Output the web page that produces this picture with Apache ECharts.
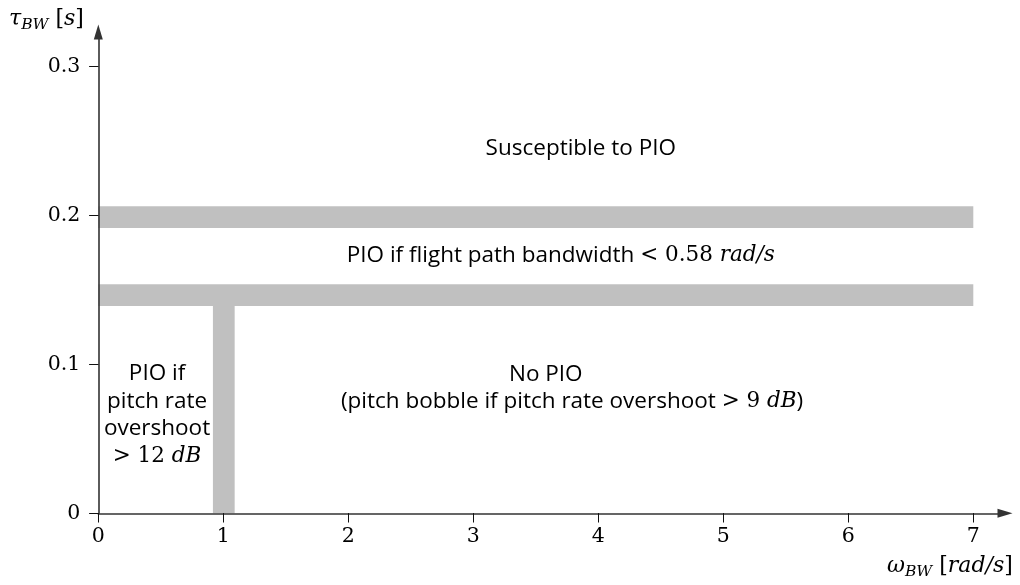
<!DOCTYPE html>
<html>
<head>
<meta charset="utf-8">
<script src="https://cdn.jsdelivr.net/npm/echarts@6/dist/echarts.min.js"></script>
<style>
  html, body { margin: 0; padding: 0; background: #fff; }
  #chart { width: 1020px; height: 585px; }
</style>
</head>
<body>
<div id="chart"></div>
<script>
// Axis extents: bandwidth (rad/s) and phase delay (s)
const xRange = [0, 7];
const xStep = 1;
const yRange = [0, 0.3];
const yStep = 0.1;

// Grey boundary bands between regions: [x0, x1, y0, y1]
const boundaryBands = [
  [0, 7, 0.1917, 0.2063],
  [0, 7, 0.1393, 0.1539],
  [0.917, 1.091, 0, 0.1393]
];

// Region descriptions: anchor (x, y) and rich text
const noteX = [3.86, 3.70, 3.58, 3.79, 0.47];
const noteY = [0.245, 0.173, 0.093, 0.075, 0.066];
const noteText = [
  '{t|Susceptible to PIO}',
  '{t|PIO if flight path bandwidth }{m|< 0.58 }{i|rad/s}',
  '{t|No PIO}',
  '{t|(pitch bobble if pitch rate overshoot }{m|> 9 }{i|dB}{t|)}',
  '{t|PIO if}\n{t|pitch rate}\n{t|overshoot}\n{m|> 12 }{i|dB}'
];

const SANS = '"Open Sans", "Noto Sans", sans-serif';
const SERIF = '"DejaVu Serif", serif';
const LH = 27.5;

const noteRich = {
  t: { fontFamily: SANS, fontSize: 22.5, color: '#000', lineHeight: LH },
  m: { fontFamily: SERIF, fontSize: 21.5, color: '#000', lineHeight: LH },
  i: { fontFamily: SERIF, fontStyle: 'italic', fontSize: 21.5, color: '#000', lineHeight: LH }
};

const titleRich = {
  i: { fontFamily: SERIF, fontStyle: 'italic', fontSize: 22, color: '#000', lineHeight: 28 },
  r: { fontFamily: SERIF, fontSize: 22, color: '#000', lineHeight: 28 },
  sub: { fontFamily: SERIF, fontStyle: 'italic', fontSize: 15.5, color: '#000', lineHeight: 28, verticalAlign: 'bottom', padding: [11, 0, 0, 0] }
};

const PLOT = { left: 98.3, right: 46.7, top: 66.7, bottom: 71.7 };
const tickStyle = { color: '#111', width: 1 };
const labelFont = { fontFamily: SERIF, fontSize: 20.5, color: '#000' };

const chart = echarts.init(document.getElementById('chart'), null, { renderer: 'canvas' });

chart.setOption({
  animation: false,
  backgroundColor: '#fff',
  grid: [
    Object.assign({ outerBoundsMode: 'none', containLabel: false }, PLOT),
    // frame used only for the arrowed axis lines
    { left: 98.3, right: 15, top: 32, bottom: 71.7, outerBoundsMode: 'none', containLabel: false }
  ],
  xAxis: [
    {
      gridIndex: 0, type: 'value', min: xRange[0], max: xRange[1], interval: xStep, z: 5,
      axisLine: { show: false },
      axisTick: { show: true, inside: false, length: 9, lineStyle: tickStyle },
      axisLabel: Object.assign({ margin: 13 }, labelFont),
      splitLine: { show: false }
    },
    {
      gridIndex: 0, type: 'value', min: xRange[0], max: xRange[1], interval: xStep, z: 5,
      axisLine: { show: false },
      axisTick: { show: true, inside: true, length: 9, lineStyle: tickStyle },
      axisLabel: { show: false },
      splitLine: { show: false }
    },
    {
      gridIndex: 1, type: 'value', min: 0, max: 1, z: 4,
      axisLine: { show: true, symbol: ['none', 'triangle'], symbolSize: [9, 15], lineStyle: { color: '#333', width: 1.6 } },
      axisTick: { show: false }, axisLabel: { show: false }, splitLine: { show: false }
    }
  ],
  yAxis: [
    {
      gridIndex: 0, type: 'value', min: yRange[0], max: yRange[1], interval: yStep, z: 5,
      axisLine: { show: false },
      axisTick: { show: true, inside: false, length: 9, lineStyle: tickStyle },
      axisLabel: Object.assign({
        margin: 18,
        formatter: v => (v === 0 ? '0' : v.toFixed(1))
      }, labelFont),
      splitLine: { show: false }
    },
    {
      gridIndex: 0, type: 'value', min: yRange[0], max: yRange[1], interval: yStep, z: 5,
      axisLine: { show: false },
      axisTick: { show: true, inside: true, length: 9, lineStyle: tickStyle },
      axisLabel: { show: false },
      splitLine: { show: false }
    },
    {
      gridIndex: 1, type: 'value', min: 0, max: 1, z: 4,
      axisLine: { show: true, symbol: ['none', 'triangle'], symbolSize: [9, 15], lineStyle: { color: '#333', width: 1.6 } },
      axisTick: { show: false }, axisLabel: { show: false }, splitLine: { show: false }
    }
  ],
  graphic: [
    {
      type: 'text', left: 9, top: 6,
      style: { text: '{i|τ}{sub|BW}{r| [}{i|s}{r|]}', rich: titleRich }
    },
    {
      type: 'text', left: 887, top: 553,
      style: { text: '{i|ω}{sub|BW}{r| [}{i|rad/s}{r|]}', rich: titleRich }
    }
  ],
  series: [
    {
      type: 'custom',
      name: 'bands',
      xAxisIndex: 0, yAxisIndex: 0, z: 1,
      clip: false,
      data: boundaryBands,
      renderItem: function (params, api) {
        const a = api.coord([api.value(0), api.value(3)]);
        const b = api.coord([api.value(1), api.value(2)]);
        return {
          type: 'rect',
          shape: { x: a[0], y: a[1], width: b[0] - a[0], height: b[1] - a[1] },
          style: { fill: '#c0c0c0' }
        };
      }
    },
    {
      type: 'custom',
      name: 'regions',
      xAxisIndex: 0, yAxisIndex: 0, z: 6,
      clip: false,
      data: noteX.map((x, i) => [x, noteY[i]]),
      renderItem: function (params, api) {
        const p = api.coord([api.value(0), api.value(1)]);
        return {
          type: 'text',
          x: p[0], y: p[1],
          style: {
            text: noteText[params.dataIndex],
            align: 'center',
            verticalAlign: 'middle',
            rich: noteRich
          }
        };
      }
    }
  ]
});
</script>
</body>
</html>
